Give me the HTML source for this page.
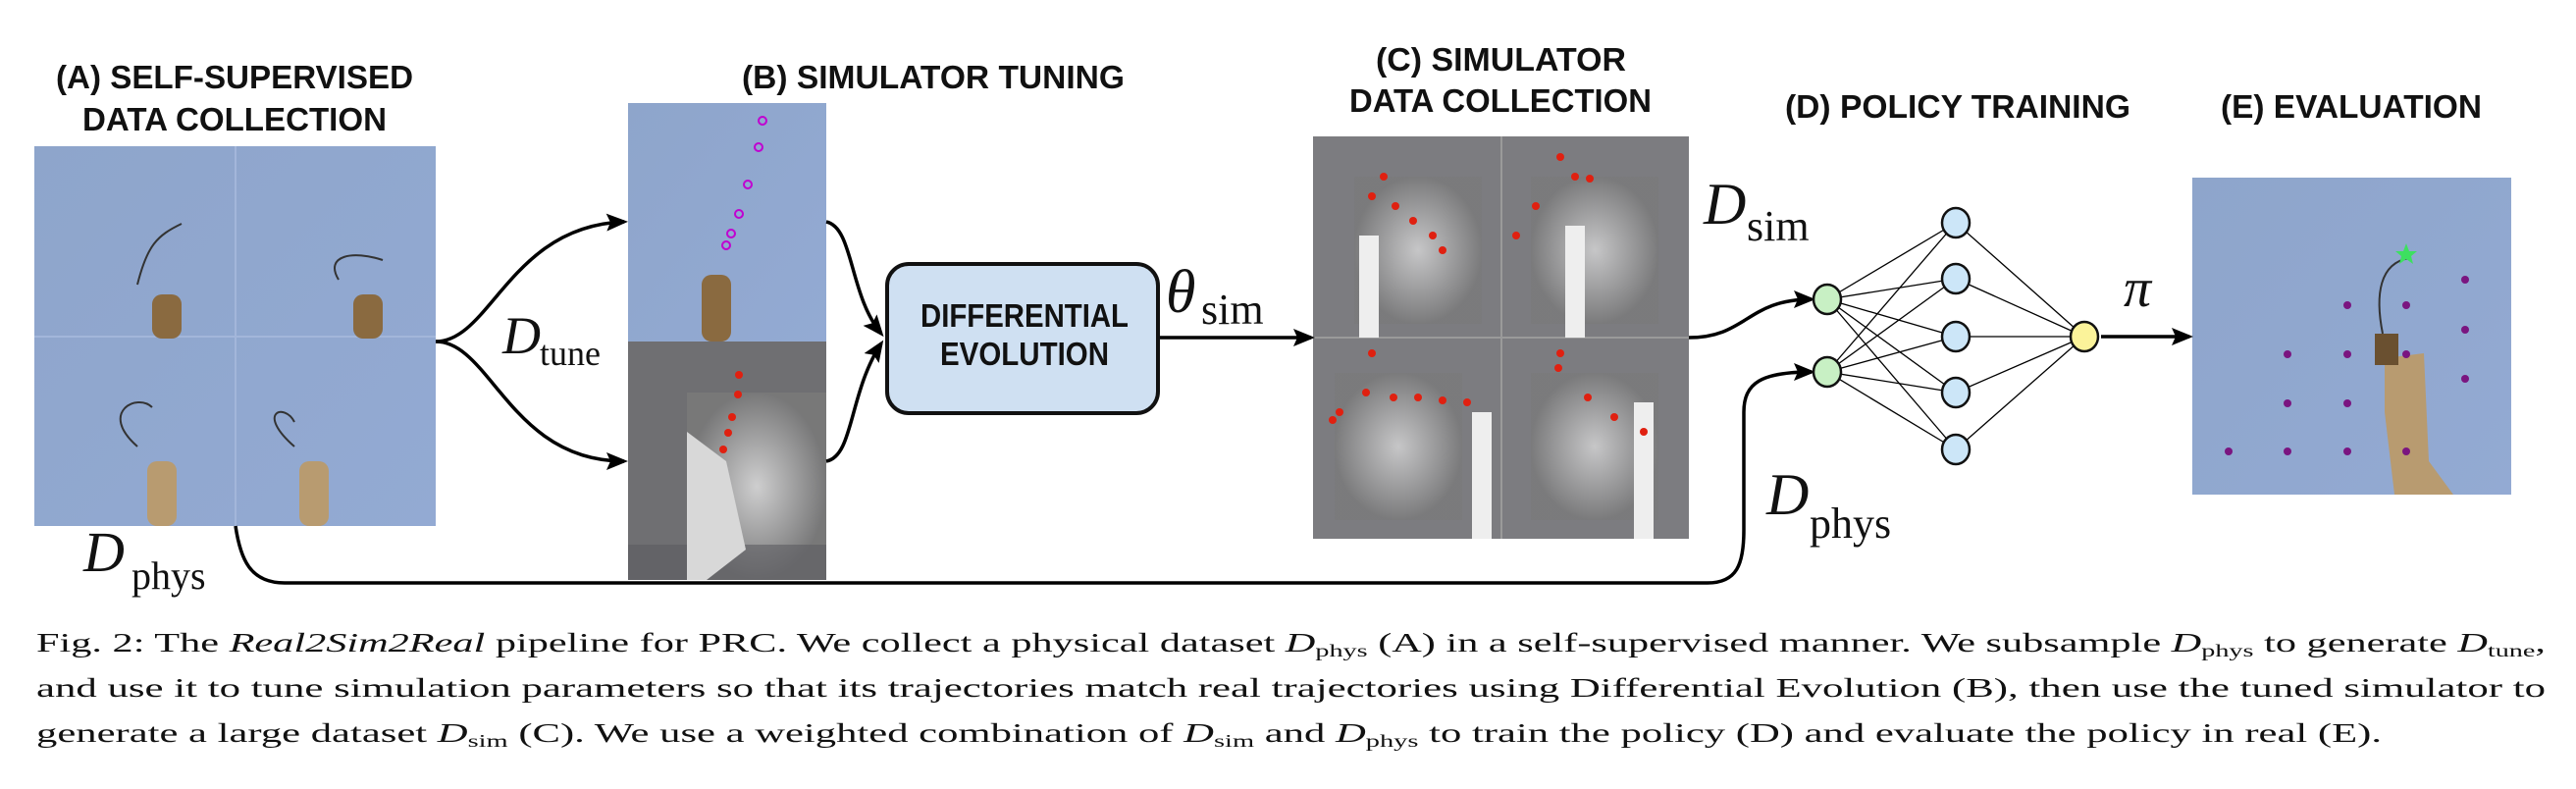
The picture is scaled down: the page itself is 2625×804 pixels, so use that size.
<!DOCTYPE html>
<html><head><meta charset="utf-8"><style>
html,body{margin:0;padding:0;background:#fff;}
svg{display:block;}
.t{font-family:"Liberation Sans",sans-serif;font-weight:bold;font-size:33px;fill:#111;}
.m{font-family:"Liberation Serif",serif;fill:#111;}
.c{font-family:"Liberation Serif",serif;font-size:27px;fill:#111;}
</style></head><body>
<svg width="2625" height="804" viewBox="0 0 2625 804" xmlns="http://www.w3.org/2000/svg">
<defs>
<marker id="ah" markerWidth="22" markerHeight="18" refX="18" refY="9" orient="auto" markerUnits="userSpaceOnUse" viewBox="0 0 22 18"><path d="M0,0 L22,9 L0,18 L4,9 z" fill="#000"/></marker>
<linearGradient id="blue" x1="0" y1="0" x2="1" y2="1"><stop offset="0" stop-color="#8ea5cb"/><stop offset="1" stop-color="#93aad3"/></linearGradient>
<radialGradient id="glow" cx="0.5" cy="0.5" r="0.5"><stop offset="0" stop-color="#e6e6e6"/><stop offset="1" stop-color="#7a7a7a"/></radialGradient>
</defs>

<!-- titles -->
<text class="t" x="57" y="90" textLength="364" lengthAdjust="spacingAndGlyphs">(A) SELF-SUPERVISED</text>
<text class="t" x="84" y="133" textLength="310" lengthAdjust="spacingAndGlyphs">DATA COLLECTION</text>
<text class="t" x="756" y="90" textLength="390" lengthAdjust="spacingAndGlyphs">(B) SIMULATOR TUNING</text>
<text class="t" x="1402" y="72" textLength="255" lengthAdjust="spacingAndGlyphs">(C) SIMULATOR</text>
<text class="t" x="1375" y="114" textLength="308" lengthAdjust="spacingAndGlyphs">DATA COLLECTION</text>
<text class="t" x="1819" y="120" textLength="352" lengthAdjust="spacingAndGlyphs">(D) POLICY TRAINING</text>
<text class="t" x="2263" y="120" textLength="266" lengthAdjust="spacingAndGlyphs">(E) EVALUATION</text>

<!-- image A -->
<rect x="35" y="149" width="409" height="387" fill="url(#blue)"/>
<line x1="240" y1="149" x2="240" y2="536" stroke="#a3b6da" stroke-width="2"/>
<line x1="35" y1="343" x2="444" y2="343" stroke="#a3b6da" stroke-width="2"/>
<g fill="#8a6a40">
<rect x="155" y="300" width="30" height="45" rx="10"/><rect x="360" y="300" width="30" height="45" rx="10"/>
<rect x="150" y="470" width="30" height="66" rx="10" fill="#b89b70"/><rect x="305" y="470" width="30" height="66" rx="10" fill="#b89b70"/>
</g>
<g fill="none" stroke="#333" stroke-width="2">
<path d="M140,290 C150,250 160,240 185,228"/><path d="M345,285 C330,260 360,255 390,265"/>
<path d="M140,455 C100,420 140,400 155,415"/><path d="M300,455 C260,420 290,410 300,430"/>
</g>

<!-- image B -->
<rect x="640" y="105" width="202" height="243" fill="url(#blue)"/>
<rect x="640" y="348" width="202" height="243" fill="#6f6f72"/>
<rect x="700" y="400" width="142" height="191" fill="url(#glow)" opacity="0.8"/>
<rect x="640" y="555" width="202" height="36" fill="#5c5c60" opacity="0.6"/>
<path d="M700,440 L740,470 L760,560 L720,591 L700,591 z" fill="#d8d8d8"/>
<g fill="none" stroke="#c000d0" stroke-width="2">
<circle cx="777" cy="123" r="4"/><circle cx="773" cy="150" r="4"/><circle cx="762" cy="188" r="4"/><circle cx="753" cy="218" r="4"/><circle cx="745" cy="238" r="4"/><circle cx="740" cy="250" r="4"/>
</g>
<g fill="#e02010"><circle cx="753" cy="382" r="4"/><circle cx="752" cy="402" r="4"/><circle cx="746" cy="425" r="4"/><circle cx="742" cy="441" r="4"/><circle cx="737" cy="458" r="4"/></g>
<rect x="715" y="280" width="30" height="68" rx="10" fill="#8a6a40"/>

<!-- image C -->
<rect x="1338" y="139" width="383" height="410" fill="#7c7c80"/>
<rect x="1380" y="180" width="130" height="150" fill="url(#glow)" opacity="0.7"/>
<rect x="1560" y="180" width="130" height="150" fill="url(#glow)" opacity="0.7"/>
<rect x="1360" y="380" width="130" height="150" fill="url(#glow)" opacity="0.7"/>
<rect x="1560" y="380" width="130" height="150" fill="url(#glow)" opacity="0.7"/>
<line x1="1530" y1="139" x2="1530" y2="549" stroke="#9a9a9a" stroke-width="2"/>
<line x1="1338" y1="344" x2="1721" y2="344" stroke="#9a9a9a" stroke-width="2"/>
<g fill="#eeeeee"><rect x="1385" y="240" width="20" height="104"/><rect x="1595" y="230" width="20" height="114"/><rect x="1500" y="420" width="20" height="129"/><rect x="1665" y="410" width="20" height="139"/></g>
<g fill="#e02010">
<circle cx="1410" cy="180" r="4"/><circle cx="1398" cy="200" r="4"/><circle cx="1422" cy="210" r="4"/><circle cx="1440" cy="225" r="4"/><circle cx="1460" cy="240" r="4"/><circle cx="1470" cy="255" r="4"/>
<circle cx="1590" cy="160" r="4"/><circle cx="1605" cy="180" r="4"/><circle cx="1620" cy="182" r="4"/><circle cx="1565" cy="210" r="4"/><circle cx="1545" cy="240" r="4"/>
<circle cx="1398" cy="360" r="4"/><circle cx="1392" cy="400" r="4"/><circle cx="1420" cy="405" r="4"/><circle cx="1445" cy="405" r="4"/><circle cx="1470" cy="408" r="4"/><circle cx="1495" cy="410" r="4"/><circle cx="1365" cy="420" r="4"/><circle cx="1358" cy="428" r="4"/>
<circle cx="1590" cy="360" r="4"/><circle cx="1588" cy="375" r="4"/><circle cx="1618" cy="405" r="4"/><circle cx="1645" cy="425" r="4"/><circle cx="1675" cy="440" r="4"/>
</g>

<!-- image E -->
<rect x="2234" y="181" width="325" height="323" fill="url(#blue)"/>
<path d="M2430,365 L2470,360 L2475,470 L2500,504 L2440,504 L2430,420 z" fill="#b89b70"/>
<rect x="2420" y="340" width="24" height="32" fill="#6a5030"/>
<path d="M2428,340 C2420,300 2425,268 2455,263" fill="none" stroke="#333" stroke-width="2"/>
<polygon points="2452,248 2455,256 2463,256 2457,261 2459,269 2452,264 2445,269 2447,261 2441,256 2449,256" fill="#3de060"/>
<g fill="#7a1580">
<circle cx="2512" cy="285" r="4"/><circle cx="2452" cy="311" r="4"/><circle cx="2392" cy="311" r="4"/><circle cx="2512" cy="336" r="4"/>
<circle cx="2331" cy="361" r="4"/><circle cx="2392" cy="361" r="4"/><circle cx="2452" cy="361" r="4"/><circle cx="2512" cy="386" r="4"/>
<circle cx="2331" cy="411" r="4"/><circle cx="2392" cy="411" r="4"/><circle cx="2271" cy="460" r="4"/><circle cx="2331" cy="460" r="4"/><circle cx="2392" cy="460" r="4"/><circle cx="2452" cy="460" r="4"/>
</g>

<!-- connectors -->
<g fill="none" stroke="#000" stroke-width="3.5">
<path d="M444,348 C500,348 520,230 636,226" marker-end="url(#ah)"/>
<path d="M444,348 C500,348 520,470 636,470" marker-end="url(#ah)"/>
<path d="M842,226 C870,232 865,300 898,340" marker-end="url(#ah)"/>
<path d="M842,470 C870,465 865,400 898,350" marker-end="url(#ah)"/>
<path d="M1180,344 L1336,344" marker-end="url(#ah)"/>
<path d="M1721,344 C1780,344 1780,305 1846,305" marker-end="url(#ah)"/>
<path d="M240,536 C245,570 255,594 290,594 L1740,594 C1770,594 1777,575 1777,540 L1777,420 C1777,390 1795,379 1846,379" marker-end="url(#ah)"/>
<path d="M2141,343 L2231,343" marker-end="url(#ah)"/>
</g>

<!-- DE box -->
<rect x="904" y="269" width="276" height="152" rx="22" fill="#cfe0f2" stroke="#111" stroke-width="4"/>
<text class="t" x="938" y="333" font-size="30" textLength="212" lengthAdjust="spacingAndGlyphs">DIFFERENTIAL</text>
<text class="t" x="958" y="372" font-size="30" textLength="172" lengthAdjust="spacingAndGlyphs">EVOLUTION</text>

<!-- network -->
<g stroke="#000" stroke-width="1.3">
<line x1="1862" y1="305" x2="1993" y2="227"/><line x1="1862" y1="305" x2="1993" y2="284"/><line x1="1862" y1="305" x2="1993" y2="343"/><line x1="1862" y1="305" x2="1993" y2="400"/><line x1="1862" y1="305" x2="1993" y2="458"/>
<line x1="1862" y1="379" x2="1993" y2="227"/><line x1="1862" y1="379" x2="1993" y2="284"/><line x1="1862" y1="379" x2="1993" y2="343"/><line x1="1862" y1="379" x2="1993" y2="400"/><line x1="1862" y1="379" x2="1993" y2="458"/>
<line x1="1993" y1="227" x2="2124" y2="343"/><line x1="1993" y1="284" x2="2124" y2="343"/><line x1="1993" y1="343" x2="2124" y2="343"/><line x1="1993" y1="400" x2="2124" y2="343"/><line x1="1993" y1="458" x2="2124" y2="343"/>
</g>
<g stroke="#111" stroke-width="2.5">
<ellipse cx="1862" cy="305" rx="14" ry="15" fill="#c8f0c4"/><ellipse cx="1862" cy="379" rx="14" ry="15" fill="#c8f0c4"/>
<ellipse cx="1993" cy="227" rx="14" ry="15" fill="#cce6f8"/><ellipse cx="1993" cy="284" rx="14" ry="15" fill="#cce6f8"/><ellipse cx="1993" cy="343" rx="14" ry="15" fill="#cce6f8"/><ellipse cx="1993" cy="400" rx="14" ry="15" fill="#cce6f8"/><ellipse cx="1993" cy="458" rx="14" ry="15" fill="#cce6f8"/>
<ellipse cx="2124" cy="343" rx="14" ry="15" fill="#fbf39a"/>
</g>

<!-- math labels -->
<text class="m" x="512" y="360" font-size="54" font-style="italic">D</text><text class="m" x="550" y="372" font-size="36">tune</text>
<text class="m" x="1188" y="318" font-size="62" font-style="italic">θ</text><text class="m" x="1224" y="330" font-size="44">sim</text>
<text class="m" x="1736" y="228" font-size="60" font-style="italic">D</text><text class="m" x="1780" y="245" font-size="44">sim</text>
<text class="m" x="2164" y="312" font-size="56" font-style="italic">π</text>
<text class="m" x="1800" y="524" font-size="60" font-style="italic">D</text><text class="m" x="1844" y="548" font-size="44">phys</text>
<text class="m" x="85" y="582" font-size="58" font-style="italic">D</text><text class="m" x="134" y="600" font-size="40">phys</text>

<!-- caption -->
<text class="c" x="37" y="664" textLength="2557" lengthAdjust="spacingAndGlyphs">Fig. 2: The <tspan font-style="italic">Real2Sim2Real</tspan> pipeline for PRC. We collect a physical dataset <tspan font-style="italic">D</tspan><tspan font-size="18" dy="5">phys</tspan><tspan dy="-5"> (A) in a self-supervised manner. We subsample </tspan><tspan font-style="italic">D</tspan><tspan font-size="18" dy="5">phys</tspan><tspan dy="-5"> to generate </tspan><tspan font-style="italic">D</tspan><tspan font-size="18" dy="5">tune</tspan><tspan dy="-5">,</tspan></text>
<text class="c" x="37" y="710" textLength="2557" lengthAdjust="spacingAndGlyphs">and use it to tune simulation parameters so that its trajectories match real trajectories using Differential Evolution (B), then use the tuned simulator to</text>
<text class="c" x="37" y="756" textLength="2390" lengthAdjust="spacingAndGlyphs">generate a large dataset <tspan font-style="italic">D</tspan><tspan font-size="18" dy="5">sim</tspan><tspan dy="-5"> (C). We use a weighted combination of </tspan><tspan font-style="italic">D</tspan><tspan font-size="18" dy="5">sim</tspan><tspan dy="-5"> and </tspan><tspan font-style="italic">D</tspan><tspan font-size="18" dy="5">phys</tspan><tspan dy="-5"> to train the policy (D) and evaluate the policy in real (E).</tspan></text>
</svg>
</body></html>
